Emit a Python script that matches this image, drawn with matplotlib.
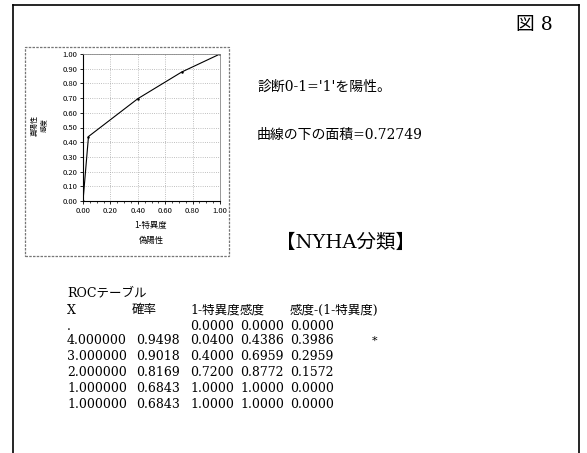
import matplotlib
matplotlib.use("Agg")
import matplotlib.pyplot as plt
from matplotlib.patches import Rectangle
from matplotlib.lines import Line2D
from matplotlib.ticker import MultipleLocator

# ROC table data
fpr = [0.0000, 0.0400, 0.4000, 0.7200, 1.0000, 1.0000]
sens = [0.0000, 0.4386, 0.6959, 0.8772, 1.0000, 1.0000]
diff = [0.0000, 0.3986, 0.2959, 0.1572, 0.0000, 0.0000]
x_vals = [".", "4.000000", "3.000000", "2.000000", "1.000000", "1.000000"]
prob = ["", "0.9498", "0.9018", "0.8169", "0.6843", "0.6843"]
headers = ["X", "確率", "1-特異度", "感度", "感度-(1-特異度)"]
auc = 0.72749

W, H = 587, 453
JP = ["DejaVu Serif", "Noto Sans CJK JP"]
plt.rcParams["font.family"] = ["Noto Sans CJK JP", "DejaVu Sans"]

fig = plt.figure(figsize=(W / 100, H / 100), dpi=100)

def fx(px):
    return px / W

def fy(py):
    return 1 - py / H

# outer frame (left, top, right; bottom is cut off)
for xs, ys in [((13, 13), (5, 453)), ((13, 579), (5, 5)), ((579, 579), (5, 453))]:
    fig.add_artist(Line2D([fx(v) for v in xs], [fy(v) for v in ys],
                          transform=fig.transFigure, color="black", lw=1.2))

# inner chart box
fig.add_artist(Rectangle((fx(25), fy(256)), fx(229) - fx(25), fy(47) - fy(256),
                         transform=fig.transFigure, fill=False,
                         edgecolor="#777777", lw=0.9, ls=(0, (2, 1))))

ax = fig.add_axes([fx(83), fy(201), fx(220) - fx(83), fy(54) - fy(201)])
ax.plot(fpr, sens, color="black", lw=0.8, marker="o", ms=0.8)
ax.set_xlim(0, 1)
ax.set_ylim(0, 1)
ax.xaxis.set_major_locator(MultipleLocator(0.2))
ax.xaxis.set_minor_locator(MultipleLocator(0.05))
ax.yaxis.set_major_locator(MultipleLocator(0.1))
ax.set_xticklabels([f"{v:.2f}" for v in ax.get_xticks()])
ax.set_yticklabels([f"{v:.2f}" for v in ax.get_yticks()])
ax.tick_params(labelsize=5.5, length=2, width=0.6, pad=2)
ax.tick_params(which="minor", length=1.5, width=0.5)
ax.grid(True, ls=":", color="#aaaaaa", lw=0.6)
for s in ["top", "right"]:
    ax.spines[s].set_color("#888888")
    ax.spines[s].set_linewidth(0.6)
for s in ["left", "bottom"]:
    ax.spines[s].set_linewidth(0.8)

fig.text(fx(151), fy(225), "1-特異度", fontsize=6, ha="center", va="center")
fig.text(fx(151), fy(240), "偽陽性", fontsize=6, ha="center", va="center")
fig.text(fx(35), fy(125), "真陽性", fontsize=5, ha="center", va="center", rotation=90)
fig.text(fx(44), fy(125), "感度", fontsize=5, ha="center", va="center", rotation=90)

# right side texts
fig.text(fx(516), fy(25), "図 8", fontsize=13.5, family=JP, va="center")
fig.text(fx(257), fy(87), "診断0-1='1'を陽性。", fontsize=10, family=JP, va="center")
fig.text(fx(257), fy(135), f"曲線の下の面積={auc:.5f}", fontsize=10, family=JP, va="center")
fig.text(fx(276), fy(243), "【NYHA分類】", fontsize=14, family=JP, va="center")

# ROC table
tfs = 9
fig.text(fx(67), fy(293), "ROCテーブル", fontsize=tfs, family=JP, va="center")
head_x = [67, 132, 190, 240, 290]
for hx, h in zip(head_x, headers):
    fig.text(fx(hx), fy(310), h, fontsize=tfs, family=JP, va="center")

row_y = [326, 341, 357, 373, 388, 404]
for i, ry in enumerate(row_y):
    fig.text(fx(67), fy(ry), x_vals[i], fontsize=tfs, family=JP, va="center")
    fig.text(fx(136), fy(ry), prob[i], fontsize=tfs, family=JP, va="center")
    fig.text(fx(190), fy(ry), f"{fpr[i]:.4f}", fontsize=tfs, family=JP, va="center")
    fig.text(fx(240), fy(ry), f"{sens[i]:.4f}", fontsize=tfs, family=JP, va="center")
    fig.text(fx(290), fy(ry), f"{diff[i]:.4f}", fontsize=tfs, family=JP, va="center")
# marker for the best cut-off
best = diff.index(max(diff))
fig.text(fx(372), fy(row_y[best]), "*", fontsize=8, family=JP, va="center")

fig.savefig("out.png", dpi=100)
